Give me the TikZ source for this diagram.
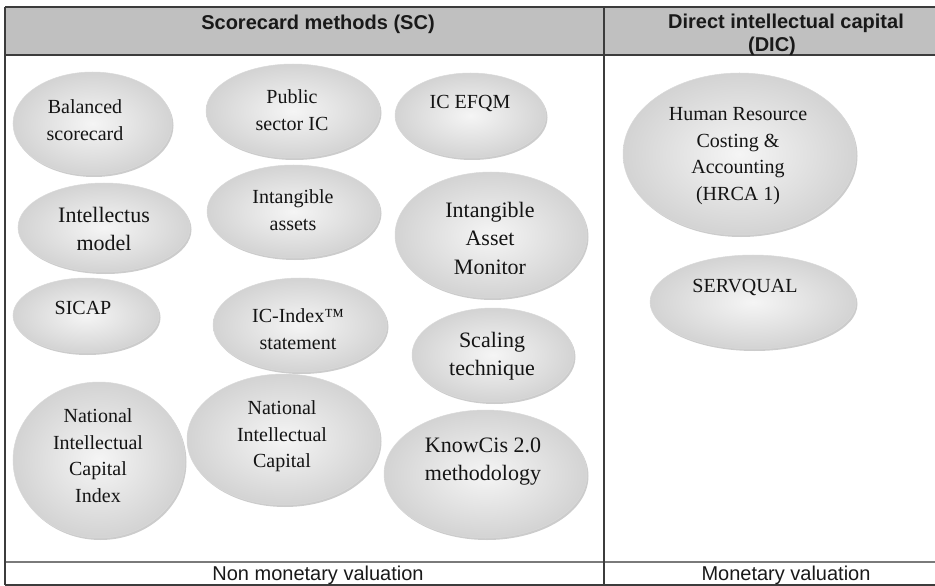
\documentclass[tikz,border=0pt]{standalone}
\usepackage{fontspec}
\setmainfont{Liberation Serif}
\newfontfamily\hdrfont{Liberation Sans}
\usetikzlibrary{shapes.geometric,shadows}
\definecolor{hdrgray}{HTML}{C0C0C0}
\definecolor{rulec}{HTML}{3C3C3C}
\definecolor{midrule}{HTML}{7A7A7A}
\definecolor{bubin}{HTML}{F5F5F5}
\definecolor{bubout}{HTML}{D3D3D3}
\definecolor{txtc}{HTML}{141414}
\tikzset{
  bub/.style={ellipse, inner sep=0pt, outer sep=0pt, draw=gray!30, line width=0.5bp,
    inner color=bubin, outer color=bubout,
    drop shadow={shadow xshift=1.5bp, shadow yshift=-2bp, opacity=0.4, fill=black!50}},
  tA/.style={align=center, text=txtc, font=\fontsize{20bp}{26.5bp}\selectfont, inner sep=0pt},
  tB/.style={align=center, text=txtc, font=\fontsize{22bp}{28.5bp}\selectfont, inner sep=0pt},
  hdr/.style={font=\hdrfont\bfseries\fontsize{20bp}{24bp}\selectfont, text=black!90, inner sep=0pt},
  ftr/.style={font=\hdrfont\fontsize{20bp}{24bp}\selectfont, text=black!90, inner sep=0pt},
  tline/.style={draw=rulec, line width=1.3bp},
  mline/.style={draw=midrule, line width=2bp},
}
\newcommand{\bubble}[5]{\node[bub, minimum width=#4bp, minimum height=#5bp] (#1) at (#2,#3) {};}
\begin{document}
\begin{tikzpicture}[x=1bp,y=-1bp]
\useasboundingbox (0,0) rectangle (935,586);
% table
\fill[hdrgray] (5,7) rectangle (935,55);
\coordinate (tl) at (5,7);
\coordinate (tr) at (935,7);
\coordinate (hl) at (5,55);
\coordinate (hr) at (935,55);
\coordinate (sl) at (5,562);
\coordinate (sr) at (935,562);
\coordinate (bl) at (5,585);
\coordinate (br) at (935,585);
\coordinate (dt) at (604,7);
\coordinate (db) at (604,585);
\draw[mline] (sl) -- (sr);
\draw[tline] (tl) -- (tr);
\draw[tline] (hl) -- (hr);
\draw[tline] (bl) -- (br);
\draw[tline] (tl) -- (bl);
\draw[tline] (dt) -- (db);
% headers
\node[hdr] (hsc) at (318,24) {Scorecard methods (SC)};
\node[hdr] (hdic1) at (786,23) {Direct intellectual capital};
\node[hdr] (hdic2) at (772,46) {(DIC)};
\node[ftr] (fnm) at (318,575) {Non monetary valuation};
\node[ftr] (fm) at (786,575) {Monetary valuation};
% bubbles
\bubble{bsc}{92.5}{123.5}{159}{103}
\bubble{psic}{293}{111}{174}{94}
\bubble{efqm}{470.5}{115.5}{151}{85}
\bubble{intel}{104}{227.5}{172}{89}
\bubble{ia}{293.5}{211.5}{173}{93}
\bubble{iam}{491}{235}{192}{126}
\bubble{sicap}{86}{315.5}{146}{75}
\bubble{icx}{300}{325}{174}{94}
\bubble{scal}{493}{355}{162}{94}
\bubble{nici}{99}{460}{172}{156}
\bubble{nic}{283.5}{439.5}{193}{131}
\bubble{kc}{485.5}{474}{203}{128}
\bubble{hrca}{739.5}{154}{233}{162}
\bubble{serv}{753}{302}{206}{94}
% texts
\node[tA] (bsc-t) at (85,120) {Balanced\\scorecard};
\node[tA] (psic-t) at (292,110) {Public\\sector IC};
\node[tA] (efqm-t) at (470,104) {IC EFQM};
\node[tB] (intel-t) at (104,229) {Intellectus\\model};
\node[tA] (ia-t) at (293,210) {Intangible\\assets};
\begin{scope}
\clip (380,150) rectangle (600,273);
\node[tB] (iam-t) at (490,238) {Intangible\\Asset\\Monitor};
\end{scope}
\node[tA] (sicap-t) at (83,308) {SICAP};
\node[tA] (icx-t) at (298,329) {IC-Index™\\statement};
\node[tB] (scal-t) at (492,356) {Scaling\\technique};
\node[tA] (nici-t) at (98,455.5) {National\\Intellectual\\Capital\\Index};
\node[tA] (nic-t) at (282,436.5) {National\\Intellectual\\Capital};
\node[tB] (kc-t) at (483,461.5) {KnowCis 2.0\\methodology};
\node[tA] (hrca-t) at (738,156) {Human Resource\\Costing \&\\Accounting\\(HRCA 1)};
\node[tA] (serv-t) at (745,287) {SERVQUAL};
\end{tikzpicture}
\end{document}
